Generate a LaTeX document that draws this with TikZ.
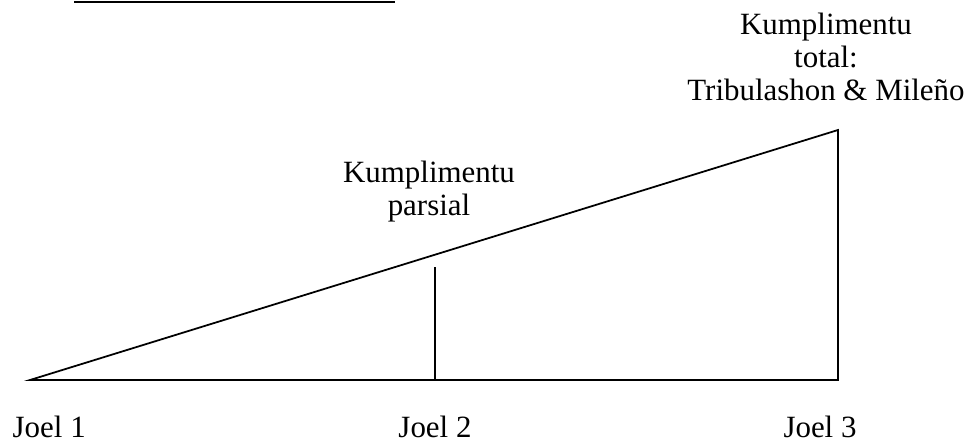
\documentclass[tikz,border=0pt]{standalone}
\usepackage{fontspec}
\setmainfont{Liberation Serif}
\usepackage{tikz}
\usetikzlibrary{positioning,calc}

\begin{document}
\begin{tikzpicture}[
  lbl/.style={inner sep=0pt, align=center, font=\fontsize{8.8}{9.25}\selectfont},
  edge/.style={line width=0.5pt, black},
  rule/.style={line width=0.6pt, black}
]
\useasboundingbox (0,0) rectangle (9.73,4.41);

% ---- Corner points ----
\coordinate (a) at (0.30, 0.61);
\coordinate (b) at (8.38, 0.61);
\coordinate (c) at (8.38, 3.11);
\coordinate (m) at (4.35, 0.61);
\coordinate (n) at (4.35, 1.74);
\coordinate (r1) at (0.74, 4.39);
\coordinate (r2) at (3.95, 4.39);

% ---- Rule on top ----
\draw[rule] (r1) -- (r2);

% ---- Triangle ----
\draw[edge] (a) -- (b) -- (c) -- cycle;
\draw[edge] (m) -- (n);

% ---- Labels (base = last line) ----
\node[lbl, anchor=base] (tot) at (8.26, 3.41) {Kumplimentu\\ total:\\ Tribulashon \& Mileño};
\node[lbl, anchor=base] (par) at (4.29, 2.26) {Kumplimentu\\ parsial};

\node[lbl, anchor=base west] (j1) at (0.12, 0.04) {Joel 1};
\node[lbl, anchor=base] (j2) at (4.35, 0.04) {Joel 2};
\node[lbl, anchor=base] (j3) at (8.20, 0.04) {Joel 3};

\end{tikzpicture}
\end{document}
